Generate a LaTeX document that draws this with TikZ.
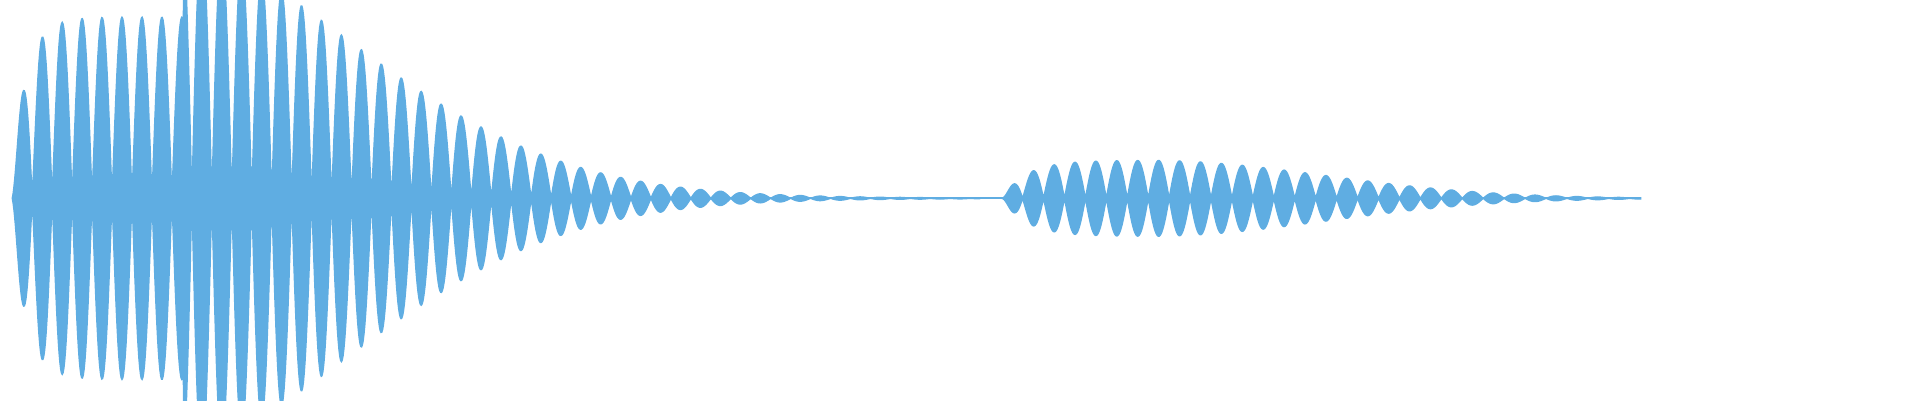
\documentclass[tikz,border=0pt]{standalone}
\usepackage{tikz}
\definecolor{wave}{RGB}{95,173,226}
\tikzset{wavefill/.style={fill=wave,draw=wave,line width=0.3pt}}
% envelopes and phases of the two bursts
\tikzset{declare function={
  envA(\x)=(\x<150)*148*(1-exp(-(\x-8)/12))+(\x>=150)*(148*exp(-((\x-150)/230)^2)+4*exp(-(\x-500)/120));
  envB(\x)=(\x<940)*31*(1-exp(-(\x-818)/20))+(\x>=940)*31*exp(-((\x-940)/200)^2);
  phA(\x)=abs(sin((180/16.3)*(\x-10)));
  phB(\x)=abs(sin((180/17.1)*(\x-818)));
}}
\begin{document}
\begin{tikzpicture}[x=0.1mm,y=-0.1mm]
  \useasboundingbox (0,0) rectangle (1568,327);
  % first burst
  \fill[wavefill] plot[domain=10:800,samples=1200] (\x,{162-envA(\x)*phA(\x)})
    -- plot[domain=800:10,samples=1200] (\x,{162+envA(\x)*phA(\x)}) -- cycle;
  % second burst
  \fill[wavefill] plot[domain=818:1340,samples=800] (\x,{162-envB(\x)*phB(\x)})
    -- plot[domain=1340:818,samples=800] (\x,{162+envB(\x)*phB(\x)}) -- cycle;
  \draw[wave,line width=0.4pt] (10,162) -- (1340,162);
\end{tikzpicture}
\end{document}
